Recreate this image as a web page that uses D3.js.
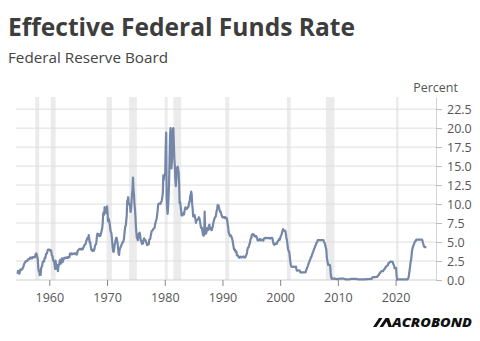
<!DOCTYPE html>
<html>
<head>
<meta charset="utf-8">
<script src="https://cdn.jsdelivr.net/npm/d3@7"></script>
<style>
  body { margin: 0; background: #fff; }
  svg { display: block; }
  text { font-family: "Open Sans", "Noto Sans", sans-serif; }
</style>
</head>
<body>
<div id="chart"></div>
<script>
// monthly effective fed funds rate, percent, starting July 1954
const firstMonth = new Date(1954, 6, 1)
const effr = [
  0.80, 1.22, 1.07, 0.85, 0.83, 1.28,
  1.39, 1.29, 1.35, 1.43, 1.43, 1.64, 1.68, 1.96, 2.18, 2.24, 2.35, 2.48,
  2.45, 2.50, 2.50, 2.62, 2.75, 2.71, 2.75, 2.73, 2.95, 2.96, 2.88, 2.94,
  2.84, 3.00, 2.96, 3.00, 3.00, 3.00, 2.99, 3.24, 3.47, 3.50, 3.28, 2.98,
  2.72, 1.67, 1.20, 1.26, 0.63, 0.93, 0.68, 1.53, 1.76, 1.80, 2.27, 2.42,
  2.48, 2.43, 2.80, 2.96, 2.90, 3.39, 3.47, 3.50, 3.76, 3.98, 4.00, 3.99,
  3.99, 3.97, 3.84, 3.92, 3.85, 3.32, 3.23, 2.98, 2.60, 2.47, 2.44, 1.98,
  1.45, 2.54, 2.02, 1.49, 1.98, 1.73, 1.17, 2.00, 1.88, 2.26, 2.61, 2.33,
  2.15, 2.37, 2.85, 2.78, 2.36, 2.68, 2.71, 2.93, 2.90, 2.90, 2.94, 2.93,
  2.92, 3.00, 2.98, 2.90, 3.00, 2.99, 3.02, 3.49, 3.48, 3.50, 3.48, 3.38,
  3.48, 3.48, 3.43, 3.47, 3.50, 3.50, 3.42, 3.50, 3.45, 3.36, 3.52, 3.85,
  3.90, 3.98, 4.04, 4.09, 4.10, 4.04, 4.09, 4.12, 4.01, 4.08, 4.10, 4.32,
  4.42, 4.60, 4.65, 4.67, 4.90, 5.17, 5.30, 5.53, 5.40, 5.53, 5.90, 5.40,
  4.94, 5.00, 4.53, 4.05, 3.94, 3.98, 3.79, 3.90, 3.99, 3.88, 4.13, 4.51,
  4.61, 4.71, 5.05, 5.76, 6.11, 6.07, 6.02, 6.03, 5.78, 5.91, 5.82, 6.02,
  6.30, 6.61, 6.79, 7.41, 8.67, 8.90, 8.61, 9.60, 9.15, 9.00, 8.85, 8.97,
  9.70, 8.98, 7.76, 8.10, 7.95, 7.61, 7.21, 6.61, 6.29, 6.20, 5.60, 4.90,
  4.14, 3.72, 3.71, 4.16, 4.63, 4.91, 5.31, 5.56, 5.55, 5.20, 4.91, 4.14,
  3.50, 3.29, 3.83, 4.17, 4.27, 4.46, 4.55, 4.80, 4.87, 5.04, 5.06, 5.33,
  5.94, 6.58, 7.09, 7.12, 7.84, 8.49, 10.40, 10.50, 10.90, 10.01, 10.03, 9.95,
  9.65, 8.97, 9.35, 10.51, 11.31, 11.93, 13.50, 12.01, 11.34, 10.06, 9.45, 8.53,
  7.13, 6.24, 5.54, 5.49, 5.22, 5.55, 6.10, 6.14, 6.24, 5.82, 5.22, 5.20,
  4.87, 4.77, 4.84, 4.82, 5.29, 5.48, 5.31, 5.29, 5.25, 5.03, 4.95, 4.65,
  4.61, 4.68, 4.69, 4.73, 5.35, 5.39, 5.42, 5.90, 6.14, 6.47, 6.51, 6.56,
  6.70, 6.78, 6.79, 6.89, 7.36, 7.60, 7.81, 8.04, 8.45, 8.96, 9.76, 10.03,
  10.07, 10.06, 10.09, 10.01, 10.24, 10.29, 10.47, 10.94, 11.43, 13.77, 13.18, 13.78,
  13.82, 14.13, 17.19, 19.40, 10.98, 9.47, 8.70, 9.61, 10.87, 12.81, 15.85, 18.90,
  20.00, 15.93, 14.70, 15.72, 18.52, 19.90, 20.00, 17.82, 15.87, 15.08, 13.31, 12.37,
  13.22, 14.78, 14.68, 14.94, 14.45, 14.15, 12.59, 10.12, 10.31, 9.71, 9.20, 8.50,
  8.68, 8.51, 8.77, 8.80, 8.63, 8.98, 9.37, 9.56, 9.45, 9.48, 9.34, 9.47,
  9.56, 9.59, 9.91, 10.29, 10.32, 11.06, 11.23, 11.64, 11.30, 9.99, 9.43, 8.38,
  8.35, 8.50, 8.58, 8.27, 7.97, 7.53, 7.88, 7.90, 7.92, 7.99, 8.05, 8.27,
  8.14, 7.86, 7.48, 6.99, 6.85, 6.92, 6.56, 6.17, 5.89, 5.85, 6.04, 9.00,
  6.43, 6.10, 6.13, 6.37, 6.85, 6.73, 6.58, 6.73, 7.22, 7.29, 6.69, 6.77,
  6.83, 6.58, 6.58, 6.87, 7.09, 7.51, 7.75, 8.01, 8.19, 8.30, 8.35, 8.76,
  9.12, 9.36, 9.85, 9.84, 9.81, 9.53, 9.24, 8.99, 9.02, 8.84, 8.55, 8.45,
  8.23, 8.24, 8.28, 8.26, 8.18, 8.29, 8.15, 8.13, 8.20, 8.11, 7.81, 7.31,
  6.91, 6.25, 6.12, 5.91, 5.78, 5.90, 5.82, 5.66, 5.45, 5.21, 4.81, 4.43,
  4.03, 4.06, 3.98, 3.73, 3.82, 3.76, 3.25, 3.30, 3.22, 3.10, 3.09, 2.92,
  3.02, 3.03, 3.07, 2.96, 3.00, 3.04, 3.06, 3.03, 3.09, 2.99, 3.02, 2.96,
  3.05, 3.25, 3.34, 3.56, 4.01, 4.25, 4.26, 4.47, 4.73, 4.76, 5.29, 5.45,
  5.53, 5.92, 5.98, 6.05, 6.01, 6.00, 5.85, 5.74, 5.80, 5.76, 5.80, 5.60,
  5.56, 5.22, 5.31, 5.22, 5.24, 5.27, 5.40, 5.22, 5.30, 5.24, 5.31, 5.29,
  5.25, 5.19, 5.39, 5.51, 5.50, 5.56, 5.52, 5.54, 5.54, 5.50, 5.52, 5.50,
  5.56, 5.51, 5.49, 5.45, 5.49, 5.56, 5.54, 5.55, 5.51, 5.07, 4.83, 4.68,
  4.63, 4.76, 4.81, 4.74, 4.74, 4.76, 4.99, 5.07, 5.22, 5.20, 5.42, 5.30,
  5.45, 5.73, 5.85, 6.02, 6.27, 6.53, 6.70, 6.50, 6.52, 6.51, 6.51, 6.40,
  5.98, 5.49, 5.31, 4.80, 4.21, 3.97, 3.77, 3.65, 3.07, 2.49, 2.09, 1.82,
  1.73, 1.74, 1.73, 1.75, 1.75, 1.75, 1.73, 1.74, 1.75, 1.75, 1.34, 1.24,
  1.24, 1.26, 1.25, 1.26, 1.26, 1.22, 1.01, 1.03, 1.01, 1.01, 1.00, 0.98,
  1.00, 1.01, 1.00, 1.00, 1.00, 1.03, 1.26, 1.43, 1.61, 1.76, 1.93, 2.16,
  2.28, 2.50, 2.63, 2.79, 3.00, 3.04, 3.26, 3.50, 3.62, 3.78, 4.00, 4.16,
  4.29, 4.49, 4.59, 4.79, 4.94, 4.99, 5.24, 5.25, 5.25, 5.25, 5.25, 5.24,
  5.25, 5.26, 5.26, 5.25, 5.25, 5.25, 5.26, 5.02, 4.94, 4.76, 4.49, 4.24,
  3.94, 2.98, 2.61, 2.28, 1.98, 2.00, 2.01, 2.00, 1.81, 0.97, 0.39, 0.16,
  0.15, 0.22, 0.18, 0.15, 0.18, 0.21, 0.16, 0.16, 0.15, 0.12, 0.12, 0.12,
  0.11, 0.13, 0.16, 0.20, 0.20, 0.18, 0.18, 0.19, 0.19, 0.19, 0.19, 0.18,
  0.17, 0.16, 0.14, 0.10, 0.09, 0.09, 0.07, 0.10, 0.08, 0.07, 0.08, 0.07,
  0.08, 0.10, 0.13, 0.14, 0.16, 0.16, 0.16, 0.13, 0.14, 0.16, 0.16, 0.16,
  0.14, 0.15, 0.14, 0.15, 0.11, 0.09, 0.09, 0.08, 0.08, 0.09, 0.08, 0.09,
  0.07, 0.07, 0.08, 0.09, 0.09, 0.10, 0.09, 0.09, 0.09, 0.09, 0.09, 0.12,
  0.11, 0.11, 0.11, 0.12, 0.12, 0.13, 0.13, 0.14, 0.14, 0.12, 0.12, 0.24,
  0.34, 0.38, 0.36, 0.37, 0.37, 0.38, 0.39, 0.40, 0.40, 0.40, 0.41, 0.54,
  0.65, 0.66, 0.79, 0.90, 0.91, 1.04, 1.15, 1.16, 1.15, 1.15, 1.16, 1.30,
  1.41, 1.42, 1.51, 1.69, 1.70, 1.82, 1.91, 1.91, 1.95, 2.19, 2.20, 2.27,
  2.40, 2.40, 2.41, 2.42, 2.39, 2.38, 2.40, 2.13, 2.04, 1.83, 1.55, 1.55,
  1.55, 1.58, 0.65, 0.05, 0.05, 0.08, 0.09, 0.10, 0.09, 0.09, 0.09, 0.09,
  0.09, 0.08, 0.07, 0.07, 0.06, 0.08, 0.10, 0.09, 0.08, 0.08, 0.08, 0.08,
  0.08, 0.08, 0.20, 0.33, 0.77, 1.21, 1.68, 2.33, 2.56, 3.08, 3.78, 4.10,
  4.33, 4.57, 4.65, 4.83, 5.06, 5.08, 5.12, 5.33, 5.33, 5.33, 5.33, 5.33,
  5.33, 5.33, 5.33, 5.33, 5.33, 5.33, 5.33, 5.33, 5.13, 4.83, 4.64, 4.48,
  4.33, 4.33, 4.33, 4.33, 4.33
]

// NBER recessions [start, end]
const recessions = [
  ["1957-08", "1958-04"], ["1960-04", "1961-02"], ["1969-12", "1970-11"],
  ["1973-11", "1975-03"], ["1980-01", "1980-07"], ["1981-07", "1982-11"],
  ["1990-07", "1991-03"], ["2001-03", "2001-11"], ["2007-12", "2009-06"],
  ["2020-02", "2020-04"]
]

const yTicks = [0, 2.5, 5, 7.5, 10, 12.5, 15, 17.5, 20, 22.5]
const xTicks = [1960, 1970, 1980, 1990, 2000, 2010, 2020]

const width = 480, height = 341
const plot = {left: 16, right: 436, top: 97, bottom: 280}

const svg = d3.select("#chart").append("svg")
    .attr("width", width)
    .attr("height", height)

const parseMonth = d3.timeParse("%Y-%m")

const x = d3.scaleTime()
    .domain([new Date(1954, 2, 25), new Date(2027, 0, 1)])
    .range([plot.left, plot.right])

const y = d3.scaleLinear()
    .domain([0, 24.1])
    .range([plot.bottom, plot.top])

// title block
svg.append("text")
    .attr("x", 8).attr("y", 36)
    .attr("font-size", 25).attr("font-weight", 700)
    .attr("fill", "#3d3d3d")
    .attr("textLength", 347).attr("lengthAdjust", "spacingAndGlyphs")
    .text("Effective Federal Funds Rate")

svg.append("text")
    .attr("x", 8).attr("y", 63)
    .attr("font-size", 15)
    .attr("fill", "#444")
    .attr("textLength", 160).attr("lengthAdjust", "spacingAndGlyphs")
    .text("Federal Reserve Board")

// recession shading
svg.append("g").selectAll("rect")
    .data(recessions)
    .enter()
    .append("rect")
    .attr("x", d => x(parseMonth(d[0])))
    .attr("width", d => Math.max(2.5, x(parseMonth(d[1])) - x(parseMonth(d[0]))))
    .attr("y", plot.top)
    .attr("height", plot.bottom - plot.top)
    .attr("fill", "#ebebeb")

// horizontal grid
svg.append("g").selectAll("line")
    .data(yTicks)
    .enter()
    .append("line")
    .attr("x1", plot.left).attr("x2", plot.right)
    .attr("y1", d => y(d)).attr("y2", d => y(d))
    .attr("stroke", d => d === 0 ? "#cfcfcf" : "#dedede")
    .attr("stroke-width", 1)

// right axis
const yAxis = svg.append("g")
    .attr("transform", `translate(${plot.right},0)`)
    .call(d3.axisRight(y).tickValues(yTicks).tickFormat(d3.format(".1f")).tickSize(6).tickPadding(5).tickSizeOuter(0))
yAxis.select(".domain").attr("stroke", "#d4d4d4")
yAxis.selectAll(".tick line").attr("stroke", "#bbb")
yAxis.selectAll(".tick text")
    .attr("font-size", 12.5).attr("fill", "#555")
    .attr("font-family", "\"Open Sans\", sans-serif")

svg.append("text")
    .attr("x", 458).attr("y", 92)
    .attr("text-anchor", "end")
    .attr("font-size", 12.5).attr("fill", "#555")
    .text("Percent")

// bottom axis
const xAxis = svg.append("g")
    .attr("transform", `translate(0,${plot.bottom})`)
    .call(d3.axisBottom(x).tickValues(xTicks.map(yr => new Date(yr, 0, 1)))
        .tickFormat(d3.timeFormat("%Y")).tickSize(6).tickPadding(7).tickSizeOuter(0))
xAxis.select(".domain").remove()
xAxis.selectAll(".tick line").attr("stroke", "#888")
xAxis.selectAll(".tick text")
    .attr("font-size", 12.5).attr("fill", "#555")
    .attr("font-family", "\"Open Sans\", sans-serif")

// rate line
const series = effr.map((v, i) => ({date: d3.timeMonth.offset(firstMonth, i), value: v}))

const line = d3.line()
    .x(d => x(d.date))
    .y(d => y(d.value))

svg.append("path")
    .datum(series)
    .attr("d", line)
    .attr("fill", "none")
    .attr("stroke", "#7587a8")
    .attr("stroke-width", 2.2)
    .attr("stroke-linejoin", "round")

// source logo
const logo = svg.append("g").attr("transform", "translate(373,318)")
logo.append("path")
    .attr("d", "M0,9 L6,0 L9.5,0 L3.5,9 Z M6.5,9 L12.5,0 L16,0 L10,9 Z M12.5,0 L16,0 L19,9 L15.5,9 Z")
    .attr("fill", "#111")
logo.append("text")
    .attr("x", 19).attr("y", 9)
    .attr("font-family", "\"Liberation Sans\", Arial, sans-serif")
    .attr("font-size", 12.5).attr("font-weight", 900).attr("font-style", "italic")
    .attr("fill", "#111")
    .attr("textLength", 80).attr("lengthAdjust", "spacingAndGlyphs")
    .text("ACROBOND")
</script>
</body>
</html>
